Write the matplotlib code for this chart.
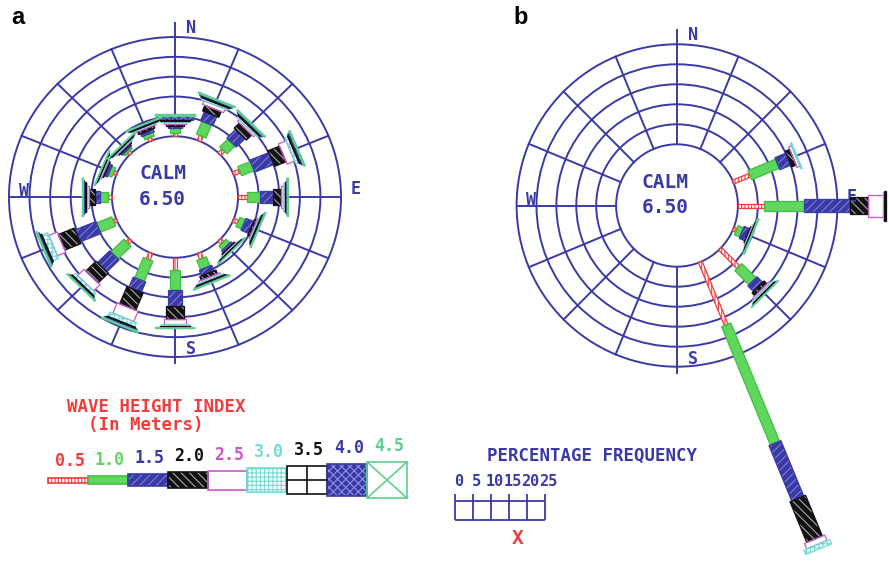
import numpy as np
import matplotlib.pyplot as plt
from matplotlib.patches import Polygon, Circle

W, H = 889, 566

directions = ['N', 'NNE', 'NE', 'ENE', 'E', 'ESE', 'SE', 'SSE',
              'S', 'SSW', 'SW', 'WSW', 'W', 'WNW', 'NW', 'NNW']
height_classes = ['0.5', '1.0', '1.5', '2.0', '2.5', '3.0', '3.5', '4.0', '4.5']
calm_value = '6.50'
scale_ticks = [0, 5, 10, 15, 20, 25]

# rose a : % frequency per direction for each wave height class
a_05 = [0.8, 1.3, 1.3, 1.7, 2.2, 1.2, 1.0, 1.5, 3.0, 1.7, 1.0, 0.8, 1.0, 0.8, 0.6, 0.8]
a_10 = [1.2, 3.5, 2.8, 3.3, 3.2, 1.5, 1.3, 2.5, 5.2, 5.5, 4.5, 4.0, 1.8, 1.0, 0.6, 1.0]
a_15 = [0.6, 2.5, 3.0, 5.0, 3.2, 2.0, 0.6, 1.5, 4.0, 2.8, 4.2, 5.5, 1.2, 0.8, 0.5, 0.8]
a_20 = [0.6, 1.5, 1.8, 3.0, 1.8, 0.6, 0.4, 1.0, 3.2, 4.7, 3.5, 4.2, 1.5, 0.4, 0.4, 0.7]
a_25 = [0.4, 1.0, 0.6, 2.0, 0.5, 0.3, 0.2, 0.5, 1.2, 2.8, 2.2, 2.2, 0.5, 0.2, 0.2, 0.3]
a_30 = [0.3, 0.5, 0.5, 0.8, 0.5, 0.3, 0.2, 0.4, 0.6, 1.2, 0.8, 1.5, 0.4, 0.3, 0.3, 0.3]
a_35 = [0.3, 0.3, 0.3, 0.3, 0.2, 0.2, 0.1, 0.2, 0.2, 0.3, 0.3, 0.4, 0.3, 0.1, 0.1, 0.2]
a_40 = [1.0, 0.4, 0.4, 0.5, 0.3, 0.3, 0.2, 0.3, 0.2, 0.4, 0.3, 0.4, 0.3, 0.2, 0.3, 0.3]
a_45 = [0.3, 0.3, 0.3, 0.3, 0.2, 0.2, 0.1, 0.2, 0.2, 0.3, 0.2, 0.3, 0.2, 0.1, 0.1, 0.2]

# rose b
b_05 = [0, 0, 0, 4.5, 6.5, 0.8, 6.5, 17.0, 0, 0, 0, 0, 0, 0, 0, 0]
b_10 = [0, 0, 0, 7.5, 10.0, 1.5, 5.0, 32.0, 0, 0, 0, 0, 0, 0, 0, 0]
b_15 = [0, 0, 0, 3.0, 11.7, 1.5, 2.0, 15.0, 0, 0, 0, 0, 0, 0, 0, 0]
b_20 = [0, 0, 0, 1.2, 4.5, 0.3, 1.0, 11.0, 0, 0, 0, 0, 0, 0, 0, 0]
b_25 = [0, 0, 0, 0.8, 3.7, 0.2, 0.5, 1.5, 0, 0, 0, 0, 0, 0, 0, 0]
b_30 = [0, 0, 0, 0.3, 0.3, 0.2, 0.5, 1.2, 0, 0, 0, 0, 0, 0, 0, 0]
b_35 = [0, 0, 0, 0, 0.5, 0.1, 0.2, 0, 0, 0, 0, 0, 0, 0, 0, 0]
b_40 = [0, 0, 0, 0, 0, 0.1, 0.2, 0, 0, 0, 0, 0, 0, 0, 0, 0]
b_45 = [0, 0, 0, 0, 0, 0.3, 0.1, 0, 0, 0, 0, 0, 0, 0, 0, 0]

rose_a = [a_05, a_10, a_15, a_20, a_25, a_30, a_35, a_40, a_45]
rose_b = [b_05, b_10, b_15, b_20, b_25, b_30, b_35, b_40, b_45]

NAVY = '#3A3AA6'
RED = '#F03C3C'
GREEN = '#5FD75F'
MAGENTA = '#CC55CC'
CYAN = '#72DCD4'
MINT = '#5CCF8F'
BLACK = '#111111'
MONO = 'DejaVu Sans Mono'

# face, hatch colour, hatch, edge, extra lines
styles = [
    dict(face='white', hcol=RED, hatch='|||||', edge=RED, extra=None),
    dict(face=GREEN, hcol=None, hatch=None, edge='#3FBF3F', extra=None),
    dict(face=NAVY, hcol='#7C7CD6', hatch='////', edge=NAVY, extra=None),
    dict(face=BLACK, hcol='#A8A8A8', hatch='\\\\\\\\', edge=BLACK, extra=None),
    dict(face='white', hcol=None, hatch=None, edge=MAGENTA, extra=None),
    dict(face='white', hcol=CYAN, hatch='++++', edge=CYAN, extra=None),
    dict(face='white', hcol=None, hatch=None, edge=BLACK, extra='+'),
    dict(face=NAVY, hcol='#9090E0', hatch='xxxx', edge=NAVY, extra=None),
    dict(face='white', hcol=None, hatch=None, edge=MINT, extra='x'),
]
label_colors = [RED, GREEN, NAVY, BLACK, MAGENTA, CYAN, BLACK, NAVY, MINT]
key_h = [5, 8, 12, 16, 19, 24, 28, 32, 36]      # legend key heights, px
bar_w = [4, 10, 13, 17, 22, 28, 30, 34, 38]     # rose bar widths, px

plt.rcParams['hatch.linewidth'] = 0.8

fig = plt.figure(figsize=(W / 100, H / 100), dpi=100)


def px_axes(left, top, width, height):
    ax = fig.add_axes([left / W, 1 - (top + height) / H, width / W, height / H])
    ax.axis('off')
    return ax


def ftext(x, y, s, **kw):
    fig.text(x / W, 1 - y / H, s, ha='center', va='center', **kw)


def draw_seg(ax, verts, c, lw=1.0):
    st = styles[c]
    verts = np.asarray(verts)
    ax.add_patch(Polygon(verts, closed=True, fc=st['face'], ec='none', lw=0,
                         clip_on=False, zorder=3))
    if st['hatch']:
        ax.add_patch(Polygon(verts, closed=True, fc='none', ec=st['hcol'], lw=0,
                             hatch=st['hatch'], clip_on=False, zorder=3.1))
    ax.add_patch(Polygon(verts, closed=True, fc='none', ec=st['edge'], lw=lw,
                         clip_on=False, zorder=3.2))
    p0, p1, p2, p3 = verts
    if st['extra'] == 'x':
        for a, b in [(p0, p2), (p1, p3)]:
            ax.plot([a[0], b[0]], [a[1], b[1]], color=st['edge'], lw=lw,
                    clip_on=False, zorder=3.3)
    elif st['extra'] == '+':
        for a, b in [((p0 + p1) / 2, (p2 + p3) / 2), ((p1 + p2) / 2, (p3 + p0) / 2)]:
            ax.plot([a[0], b[0]], [a[1], b[1]], color=st['edge'], lw=lw,
                    clip_on=False, zorder=3.3)


R0 = 15.3        # calm circle radius, in % units
RING = 5
R_OUT = R0 + 5 * RING
theta = np.deg2rad(np.arange(len(directions)) * 22.5)


def draw_rose(cx, cy, sx, sy, classes):
    lim = 45
    ax = px_axes(cx - lim * sx, cy - lim * sy, 2 * lim * sx, 2 * lim * sy)
    ax.set_xlim(-lim, lim)
    ax.set_ylim(-lim, lim)
    for k in range(6):
        ax.add_patch(Circle((0, 0), R0 + k * RING, fill=False, ec=NAVY, lw=1.4,
                            clip_on=False, zorder=1))
    for i, t in enumerate(theta):
        r_out = R_OUT + (3.5 if i == 0 else 1.5 if i == 8 else 0)
        ax.plot([R0 * np.sin(t), r_out * np.sin(t)], [R0 * np.cos(t), r_out * np.cos(t)],
                color=NAVY, lw=1.4, clip_on=False, zorder=1)
    for d, t in enumerate(theta):
        u = np.array([np.sin(t), np.cos(t)])
        v = np.array([np.cos(t), -np.sin(t)])
        r = R0
        for c in range(len(height_classes)):
            L = classes[c][d]
            if L <= 0:
                continue
            hw = bar_w[c] / 8.0
            verts = [r * u - hw * v, (r + L) * u - hw * v, (r + L) * u + hw * v, r * u + hw * v]
            draw_seg(ax, verts, c, lw=0.9)
            r += L
    kw = dict(color=NAVY, family=MONO, fontweight='bold', fontsize=12,
              ha='center', va='center')
    ax.text(4.0, R_OUT + 2.3, 'N', **kw)
    ax.text(4.0, -R_OUT + 2.0, 'S', **kw)
    ax.text(-R_OUT + 3.6, 1.4, 'W', **kw)
    ax.text(R_OUT + 3.6, 2.0, 'E', **kw)
    kw['fontsize'] = 14
    ax.text(-3.0, 5.8, 'CALM', **kw)
    ax.text(-3.0, -0.6, calm_value, **kw)
    return ax


draw_rose(175, 197, 4.12, 3.97, rose_a)
draw_rose(677, 205.5, 3.98, 4.0, rose_b)

ftext(18, 18, 'a', fontsize=17, fontweight='bold', family='Liberation Sans')
ftext(521, 17, 'b', fontsize=17, fontweight='bold', family='Liberation Sans')

# wave height legend
ftext(156, 407, 'WAVE HEIGHT INDEX', color=RED, family=MONO, fontweight='bold', fontsize=12.5)
ftext(146, 425, '(In Meters)', color=RED, family=MONO, fontweight='bold', fontsize=12.5)
lg = px_axes(48, 455, 359, 50)
lg.set_xlim(0, len(height_classes))
lg.set_ylim(-25, 25)
for i, lab in enumerate(height_classes):
    h = key_h[i]
    verts = [(i, -h / 2), (i + 1, -h / 2), (i + 1, h / 2), (i, h / 2)]
    draw_seg(lg, verts, i, lw=1.2)
    lg.text(i + 0.55, h / 2 + 7, lab, color=label_colors[i], family=MONO,
            fontweight='bold', fontsize=12, ha='center', va='bottom')

# percentage frequency scale
ftext(592, 456, 'PERCENTAGE FREQUENCY', color=NAVY, family=MONO, fontweight='bold', fontsize=12.5)
sc = px_axes(455, 490, 90, 30)
sc.set_xlim(0, 25)
sc.set_ylim(0, 30)
sc.vlines(scale_ticks, 0, 26, color=NAVY, lw=1.3, clip_on=False)
sc.hlines([0, 19], 0, 25, color=NAVY, lw=1.3, clip_on=False)
for t in scale_ticks:
    sc.text(t + 1, 38, str(t), color=NAVY, family=MONO, fontweight='bold',
            fontsize=11, ha='center', va='center', clip_on=False)
ftext(518, 538, 'X', color=RED, family=MONO, fontweight='bold', fontsize=14)

fig.savefig('out.png', dpi=100, facecolor='white')
